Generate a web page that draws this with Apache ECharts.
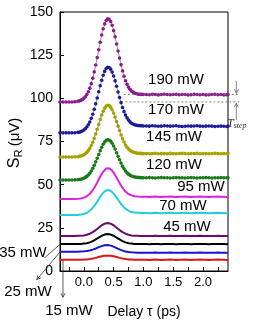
<!DOCTYPE html>
<html><head><meta charset="utf-8">
<script src="https://cdn.jsdelivr.net/npm/echarts@6/dist/echarts.min.js"></script>
<style>html,body{margin:0;padding:0;background:#fff}#c{width:256px;height:327px}</style>
</head><body><div id="c"></div>
<script>
const delay = [-0.4,-0.35,-0.3,-0.25,-0.2,-0.15,
 -0.1,-0.075,-0.05,-0.025,0,0.025,0.05,0.075,0.1,0.125,0.15,0.175,0.2,0.225,0.25,0.275,0.3,0.325,0.35,0.375,0.4,0.425,0.45,0.475,0.5,0.525,0.55,0.575,0.6,0.625,0.65,0.675,0.7,0.725,0.75,0.775,0.8,0.825,0.85,0.875,0.9,0.925,0.95,0.975,1.0,
 1.05,1.1,1.15,1.2,1.25,1.3,1.35,1.4,1.45,1.5,1.55,1.6,1.65,1.7,1.75,1.8,1.85,1.9,1.95,2.0,2.05,2.1,2.15,2.2,2.25,2.3,2.35,2.4,2.42];

const p190 = [97.9,97.9,97.9,97.9,97.9,98.0,
 98.3,98.5,98.8,99.3,100.0,100.9,102.2,103.8,105.9,108.5,111.7,115.3,119.3,123.6,128.1,132.5,136.7,140.3,143.1,145.1,146.0,145.8,144.5,142.3,139.2,135.6,131.5,127.4,123.3,119.4,115.9,112.8,110.2,108.1,106.5,105.2,104.2,103.6,103.1,102.8,102.5,102.4,102.3,102.3,102.2,
 102.2,102.1,102.3,102.2,102.0,102.2,102.4,102.2,102.1,102.2,102.3,102.1,102.2,102.2,102.0,102.1,102.3,102.2,102.1,102.2,102.0,102.1,102.2,102.3,102.1,102.2,102.0,102.1,102.2];
const p170 = [80.0,80.0,80.0,80.0,80.0,80.1,
 80.3,80.4,80.7,81.1,81.6,82.4,83.4,84.7,86.3,88.4,90.8,93.7,96.8,100.2,103.8,107.3,110.5,113.4,115.6,117.3,118.0,117.9,116.9,115.2,112.9,110.1,107.0,103.7,100.5,97.5,94.7,92.3,90.3,88.7,87.4,86.4,85.6,85.1,84.7,84.5,84.3,84.2,84.1,84.1,84.0,
 84.0,83.9,84.1,84.0,83.8,83.9,84.1,84.0,83.9,84.0,84.1,83.8,83.7,83.8,84.0,83.9,84.0,84.1,83.9,83.8,83.9,84.0,83.9,83.7,83.8,83.9,83.8,83.7,83.8];
const p145 = [66.0,66.0,66.0,66.0,66.0,66.1,
 66.2,66.4,66.6,66.9,67.3,67.9,68.7,69.7,71.0,72.7,74.6,76.9,79.4,82.1,84.9,87.7,90.3,92.5,94.2,95.5,96.0,95.8,94.9,93.4,91.5,89.1,86.5,83.9,81.3,78.8,76.6,74.7,73.0,71.7,70.7,69.9,69.3,68.9,68.6,68.4,68.2,68.1,68.1,68.0,68.0,
 68.0,67.9,68.0,68.1,67.9,68.0,68.0,67.9,68.1,68.0,67.9,68.0,68.1,68.0,67.9,68.0,68.0,68.1,67.9,68.0,68.0,67.9,68.0,68.1,68.0,67.9,68.0,68.0,68.0];
const p120 = [52.7,52.7,52.7,52.7,52.7,52.8,
 52.9,53.0,53.1,53.4,53.7,54.2,54.8,55.6,56.6,57.9,59.5,61.2,63.2,65.3,67.5,69.7,71.7,73.4,74.7,75.7,76.0,75.9,75.2,74.0,72.4,70.6,68.5,66.4,64.4,62.5,60.7,59.2,57.9,56.9,56.1,55.5,55.0,54.7,54.4,54.3,54.2,54.1,54.1,54.0,54.0,
 54.0,54.1,54.0,53.9,54.0,54.1,54.0,54.0,53.9,54.0,54.1,54.0,54.0,53.9,54.0,54.1,54.0,53.9,54.0,54.0,54.1,54.0,53.9,54.0,54.0,54.1,54.0,54.0,54.0];
const p95 = [41.7,41.7,41.7,41.7,41.7,41.7,
 41.8,41.9,42.0,42.2,42.5,42.8,43.3,43.9,44.7,45.7,46.9,48.2,49.7,51.3,53.0,54.7,56.2,57.5,58.6,59.3,59.6,59.5,59.0,58.2,57.0,55.6,54.1,52.5,50.9,49.5,48.1,47.0,46.0,45.2,44.6,44.1,43.8,43.5,43.3,43.2,43.1,43.1,43.0,43.0,43.0,
 43.0,42.9,43.0,43.1,43.0,42.9,43.0,43.0,43.1,43.0,42.9,43.0,43.0,43.1,43.0,42.9,43.0,43.0,43.1,43.0,43.0,42.9,43.0,43.0,43.1,43.0,43.0,42.9,43.0];
const p70 = [32.4,32.4,32.4,32.4,32.4,32.4,
 32.5,32.6,32.7,32.8,33.0,33.3,33.7,34.2,34.8,35.6,36.6,37.7,38.9,40.2,41.6,42.9,44.2,45.3,46.1,46.7,47.0,46.9,46.5,45.8,44.9,43.8,42.5,41.3,40.0,38.8,37.8,36.8,36.0,35.4,34.9,34.5,34.2,34.0,33.9,33.8,33.7,33.7,33.6,33.6,33.6,
 33.6,33.5,33.6,33.7,33.6,33.5,33.6,33.6,33.7,33.6,33.5,33.6,33.6,33.7,33.6,33.5,33.6,33.6,33.7,33.6,33.6,33.5,33.6,33.6,33.7,33.6,33.6,33.5,33.6];
const p45 = [20.3,20.3,20.3,20.3,20.3,20.3,
 20.4,20.4,20.4,20.5,20.6,20.8,21.0,21.3,21.6,22.0,22.5,23.1,23.7,24.4,25.1,25.8,26.5,27.0,27.4,27.7,27.8,27.7,27.4,27.0,26.5,25.8,25.1,24.4,23.7,23.1,22.5,22.0,21.6,21.3,21.0,20.8,20.6,20.5,20.4,20.4,20.4,20.3,20.3,20.3,20.3,
 20.3,20.2,20.3,20.4,20.3,20.2,20.3,20.3,20.4,20.3,20.2,20.3,20.3,20.4,20.3,20.2,20.3,20.3,20.4,20.3,20.3,20.2,20.3,20.3,20.4,20.3,20.3,20.2,20.3];
const p35 = [15.6,15.6,15.6,15.6,15.6,15.6,
 15.6,15.7,15.7,15.8,15.9,16.0,16.1,16.3,16.6,16.9,17.3,17.8,18.3,18.8,19.3,19.9,20.4,20.8,21.1,21.3,21.4,21.3,21.1,20.8,20.4,19.9,19.3,18.8,18.3,17.8,17.3,16.9,16.6,16.3,16.1,16.0,15.9,15.8,15.7,15.7,15.6,15.6,15.6,15.6,15.6,
 15.6,15.5,15.6,15.7,15.6,15.5,15.6,15.6,15.7,15.6,15.5,15.6,15.6,15.7,15.6,15.5,15.6,15.6,15.7,15.6,15.6,15.5,15.6,15.6,15.7,15.6,15.6,15.5,15.6];
const p25 = [11.2,11.2,11.2,11.2,11.2,11.2,
 11.2,11.3,11.3,11.3,11.4,11.5,11.6,11.7,11.9,12.1,12.4,12.7,13.0,13.4,13.8,14.1,14.4,14.7,14.9,15.0,15.0,14.9,14.7,14.4,14.1,13.7,13.3,12.9,12.5,12.1,11.8,11.5,11.3,11.1,11.0,10.9,10.8,10.7,10.7,10.7,10.6,10.6,10.6,10.6,10.6,
 10.6,10.5,10.6,10.7,10.6,10.5,10.6,10.6,10.7,10.6,10.5,10.6,10.6,10.7,10.6,10.5,10.6,10.6,10.7,10.6,10.6,10.5,10.6,10.6,10.7,10.6,10.6,10.5,10.6];
const p15 = [6.5,6.5,6.5,6.5,6.5,6.5,
 6.5,6.5,6.5,6.6,6.6,6.7,6.7,6.8,6.9,7.1,7.2,7.4,7.6,7.8,8.1,8.3,8.5,8.7,8.8,8.9,8.9,8.9,8.8,8.7,8.5,8.3,8.1,7.8,7.6,7.4,7.2,7.1,6.9,6.8,6.7,6.7,6.6,6.6,6.5,6.5,6.5,6.5,6.5,6.5,6.5,
 6.5,6.4,6.5,6.6,6.5,6.4,6.5,6.5,6.6,6.5,6.4,6.5,6.5,6.6,6.5,6.4,6.5,6.5,6.6,6.5,6.5,6.4,6.5,6.5,6.6,6.5,6.5,6.4,6.5];

const powers = ['190 mW','170 mW','145 mW','120 mW','95 mW','70 mW','45 mW','35 mW','25 mW','15 mW'];
const profiles = [p190,p170,p145,p120,p95,p70,p45,p35,p25,p15];
const colors = ['#8e1a8e','#1c1c9c','#a3a300','#1a7a1a','#e020e0','#20d0d8','#6a0a6a','#000000','#1414d4','#e01414'];
const dotted = [true,true,true,true,false,false,false,false,false,false];
const xTickLabels = [0,0.5,1,1.5,2];
const xMinorTicks = [-0.25,0,0.25,0.5,0.75,1,1.25,1.5,1.75,2,2.25];

const FONT = '"Liberation Sans", Arial, sans-serif';
const chart = echarts.init(document.getElementById('c'), null, {renderer:'canvas'});

const series = profiles.map((ys, k) => ({
  type:'line', name: powers[k], animation:false, z: 2 + (9-k),
  data: delay.map((x,i)=>[x, ys[i]]),
  showSymbol: dotted[k], symbol:'circle', symbolSize: 3.6,
  itemStyle: {color: colors[k]},
  lineStyle: dotted[k] ? {color:'#777', width:0.8} : {color: colors[k], width:2},
  emphasis:{disabled:true}
}));

function txt(text, x, y, size, align) {
  return {type:'text', x:x, y:y, z:100,
    style:{text:text, font: size+'px '+FONT, fill:'#000', align: align||'center', verticalAlign:'middle'}};
}
const labels = [
  txt('190 mW',176,80,15), txt('170 mW',176,110,15), txt('145 mW',174,137,15), txt('120 mW',174,165,15),
  txt('95 mW',201,187,15), txt('70 mW',183,206,15), txt('45 mW',187,227,15),
  txt('35 mW',23,253,15), txt('25 mW',28,292,15), txt('15 mW',69,311,15),
  txt('Delay τ (ps)',144,312,14),
  {type:'text', x:15, y:143, rotation:Math.PI/2, z:100,
    style:{text:'{s|S}{r|R} {u|(μV)}', align:'center', verticalAlign:'middle', fill:'#000',
      rich:{s:{fontSize:16, fontFamily:FONT, fill:'#000'},
            r:{fontSize:11, fontFamily:FONT, fill:'#000', padding:[8,0,0,0]},
            u:{fontSize:15, fontFamily:FONT, fill:'#000'}}}},
  {type:'text', x:227, y:124, z:100,
    style:{text:'{t|T}{s|step}', align:'left', verticalAlign:'middle', fill:'#333',
      rich:{t:{fontSize:12, fontFamily:'"Liberation Serif", serif', fontStyle:'italic', fill:'#333'},
            s:{fontSize:8, fontFamily:'"Liberation Serif", serif', fontStyle:'italic', fill:'#333', padding:[4,0,0,0]}}}}
];

chart.setOption({
  animation:false,
  grid:{left:60, right:28, top:12, bottom:56, show:true, borderColor:'#000', borderWidth:1, backgroundColor:'transparent'},
  xAxis:{type:'value', min:-0.4, max:2.42,
    axisLine:{show:true, onZero:false, lineStyle:{color:'#000', width:1}},
    axisTick:{show:true, inside:true, length:4, customValues:xMinorTicks, lineStyle:{color:'#000'}},
    axisLabel:{show:true, customValues:xTickLabels, margin:5, fontSize:13, fontFamily:FONT, color:'#000',
      formatter:v=>Number(v).toFixed(1)},
    splitLine:{show:false}},
  yAxis:{type:'value', min:0, max:150, interval:25,
    axisLine:{show:true, onZero:false, lineStyle:{color:'#000', width:1}},
    axisTick:{show:true, inside:true, length:4, lineStyle:{color:'#000'}},
    axisLabel:{margin:7, fontSize:14, fontFamily:FONT, color:'#000'},
    splitLine:{show:false}},
  series: series,
  graphic: labels
});

// annotation guides, placed through the chart's own scales
const P = (x,y) => chart.convertToPixel({gridIndex:0}, [x,y]);
function seg(a, b, color, dash) {
  return {type:'line', z:90, silent:true,
    shape:{x1:a[0], y1:a[1], x2:b[0], y2:b[1]},
    style:{stroke:color, lineWidth:0.8, lineDash: dash || null}};
}
function arrow(a, b, color) {
  const dx = b[0]-a[0], dy = b[1]-a[1], L = Math.hypot(dx,dy), ux = dx/L, uy = dy/L;
  const h = 4, w = 2;
  return [seg(a,b,color),
    {type:'polyline', z:90, silent:true,
     shape:{points:[[b[0]-ux*h-uy*w, b[1]-uy*h+ux*w],[b[0],b[1]],[b[0]-ux*h+uy*w, b[1]-uy*h-ux*w]]},
     style:{stroke:color, lineWidth:0.8, fill:null}}];
}
const extra = [
  seg(P(0.67,102.2), P(2.62,102.2), '#666', [2,2]),
  seg(P(0.63,97.9), P(2.62,97.9), '#666', [2,2]),
  ...arrow(P(2.56,110), P(2.56,102.9), '#666'),
  ...arrow(P(2.56,87.5), P(2.56,97.2), '#666'),
  seg(P(-0.4,15.4), P(-0.66,7.6), '#333'),
  ...arrow(P(-0.4,11.0), P(-0.79,-5.0), '#333'),
  ...arrow(P(-0.35,6.3), P(-0.35,-15.2), '#333')
];
chart.setOption({graphic: labels.concat(extra)});
</script></body></html>
